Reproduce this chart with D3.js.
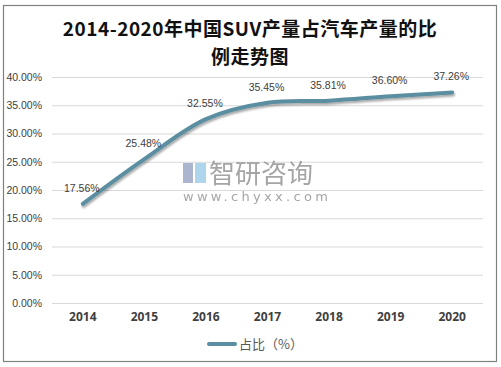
<!DOCTYPE html>
<html lang="zh">
<head>
    <meta charset="UTF-8">
    <title>2014-2020年中国SUV产量占汽车产量的比例走势图</title>
    <script src="https://d3js.org/d3.v7.min.js"></script>
    <style>
        body { margin: 0; background: #fff; }
    </style>
</head>
<body>
    <svg width="501" height="367"></svg>
    <script type="text/javascript">

        // data
        var years = ["2014", "2015", "2016", "2017", "2018", "2019", "2020"];
        var shares = [17.56, 25.48, 32.55, 35.45, 35.81, 36.60, 37.26];
        var yTicks = [0, 5, 10, 15, 20, 25, 30, 35, 40];
        var titleLines = ["2014-2020年中国SUV产量占汽车产量的比", "例走势图"];
        var legendLabel = "占比（%）";

        var data = years.map(function(y, i) {
            return {year: y, value: shares[i]};
        });

        var svg = d3.select("svg");
        var lineColor = "#5b8ea1";

        // outer frame
        svg.append("rect")
            .attr("x", 3.5)
            .attr("y", 5.5)
            .attr("width", 493)
            .attr("height", 356)
            .attr("fill", "#fff")
            .attr("stroke", "#808080")
            .attr("stroke-width", 1.2);

        // title
        svg.append("g")
            .selectAll("text")
            .data(titleLines)
            .enter().append("text")
            .attr("x", 250)
            .attr("y", function(d, i) { return 36 + i * 28; })
            .attr("text-anchor", "middle")
            .attr("font-family", "'Noto Sans CJK SC', 'DejaVu Serif', serif")
            .attr("font-weight", "bold")
            .attr("font-size", "19px")
            .attr("letter-spacing", "0.5px")
            .attr("fill", "#111")
            .text(function(d) { return d; });

        // scales
        var x = d3.scaleBand()
            .domain(years)
            .range([52, 483]);

        var y = d3.scaleLinear()
            .domain([0, 40])
            .range([303, 77]);

        // grid lines
        svg.append("g")
            .selectAll("line")
            .data(yTicks)
            .enter().append("line")
            .attr("x1", 52)
            .attr("x2", 483)
            .attr("y1", function(d) { return y(d) + 0.5; })
            .attr("y2", function(d) { return y(d) + 0.5; })
            .attr("stroke", "#d9d9d9")
            .attr("stroke-width", 1);

        // y axis labels
        var yAxis = svg.append("g")
            .attr("transform", "translate(52,0)")
            .call(d3.axisLeft(y)
                .tickValues(yTicks)
                .tickSize(0)
                .tickPadding(10)
                .tickFormat(function(d) { return d.toFixed(2) + "%"; }));
        yAxis.select(".domain").remove();
        yAxis.selectAll("text")
            .attr("font-family", "'Liberation Sans', Arial, sans-serif")
            .attr("font-size", "10.5px")
            .attr("fill", "#404040");

        // x axis labels
        var xAxis = svg.append("g")
            .attr("transform", "translate(0,303)")
            .call(d3.axisBottom(x).tickSize(0).tickPadding(9));
        xAxis.select(".domain").remove();
        xAxis.selectAll("text")
            .attr("font-family", "'Open Sans', 'Liberation Sans', sans-serif")
            .attr("font-weight", "bold")
            .attr("font-size", "12px")
            .attr("fill", "#404040");

        // watermark
        var wm = svg.append("g").attr("opacity", 0.8);
        wm.append("rect").attr("x", 183).attr("y", 163).attr("width", 10).attr("height", 20).attr("fill", "#97a3c4");
        wm.append("rect").attr("x", 195).attr("y", 163).attr("width", 11).attr("height", 20).attr("fill", "#9ccbe8");
        wm.append("text")
            .attr("x", 209)
            .attr("y", 183)
            .attr("font-family", "'Noto Sans CJK SC', sans-serif")
            .attr("font-size", "26px")
            .attr("fill", "#8f8f8f")
            .text("智研咨询");
        wm.append("text")
            .attr("x", 183)
            .attr("y", 201)
            .attr("font-family", "'DejaVu Sans', sans-serif")
            .attr("font-size", "13px")
            .attr("letter-spacing", "3.3px")
            .attr("fill", "#8f8f8f")
            .text("www.chyxx.com");

        // shadow for the line
        var defs = svg.append("defs");
        var filter = defs.append("filter")
            .attr("id", "shadow")
            .attr("x", "-10%").attr("y", "-20%")
            .attr("width", "120%").attr("height", "140%");
        filter.append("feDropShadow")
            .attr("dx", 1)
            .attr("dy", 2)
            .attr("stdDeviation", 1.2)
            .attr("flood-color", "#000")
            .attr("flood-opacity", 0.35);

        var line = d3.line()
            .x(function(d) { return x(d.year) + x.bandwidth() / 2; })
            .y(function(d) { return y(d.value); })
            .curve(d3.curveCatmullRom.alpha(0.5));

        svg.append("path")
            .datum(data)
            .attr("d", line)
            .attr("fill", "none")
            .attr("stroke", lineColor)
            .attr("stroke-width", 4)
            .attr("stroke-linecap", "round")
            .attr("filter", "url(#shadow)");

        // data labels
        svg.append("g")
            .selectAll("text")
            .data(data)
            .enter().append("text")
            .attr("x", function(d) { return x(d.year) + x.bandwidth() / 2 - 1; })
            .attr("y", function(d) { return y(d.value) - 12; })
            .attr("text-anchor", "middle")
            .attr("font-family", "'Liberation Sans', Arial, sans-serif")
            .attr("font-size", "10.5px")
            .attr("fill", "#404040")
            .text(function(d) { return d.value.toFixed(2) + "%"; });

        // legend
        var legend = svg.append("g").attr("transform", "translate(209,344)");
        legend.append("line")
            .attr("x1", 0).attr("x2", 26)
            .attr("y1", 0).attr("y2", 0)
            .attr("stroke", lineColor)
            .attr("stroke-width", 4)
            .attr("stroke-linecap", "round");
        legend.append("text")
            .attr("x", 30)
            .attr("y", 5)
            .attr("font-family", "'Noto Sans CJK SC', sans-serif")
            .attr("font-size", "13px")
            .attr("fill", "#595959")
            .text(legendLabel);

    </script>
</body>
</html>
